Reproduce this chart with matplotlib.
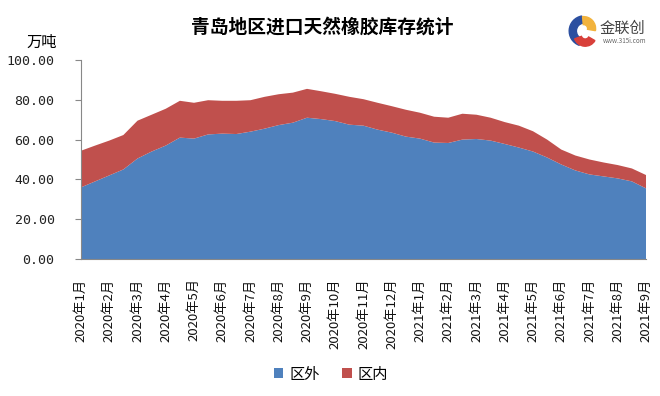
import matplotlib
matplotlib.use("Agg")
import matplotlib.pyplot as plt
from matplotlib.patches import Wedge

plt.rcParams["font.family"] = ["Noto Sans CJK SC", "DejaVu Sans"]

# semi-monthly readings, 2020-01 .. 2021-09 (万吨)
months = ["2020年1月", "2020年2月", "2020年3月", "2020年4月", "2020年5月",
          "2020年6月", "2020年7月", "2020年8月", "2020年9月", "2020年10月",
          "2020年11月", "2020年12月", "2021年1月", "2021年2月", "2021年3月",
          "2021年4月", "2021年5月", "2021年6月", "2021年7月", "2021年8月",
          "2021年9月"]

outside = [36.0, 39.0, 42.0, 45.0, 50.5, 54.0, 57.0, 61.0, 60.5, 62.6,
           63.0, 62.8, 64.0, 65.5, 67.3, 68.5, 71.0, 70.3, 69.3, 67.5,
           67.0, 65.0, 63.5, 61.5, 60.5, 58.5, 58.3, 60.0, 60.3, 59.5,
           57.8, 56.0, 54.0, 51.0, 47.5, 44.5, 42.5, 41.5, 40.5, 39.0, 35.5]
total = [54.4, 57.0, 59.5, 62.3, 69.5, 72.5, 75.5, 79.5, 78.5, 79.8,
         79.5, 79.5, 79.8, 81.5, 82.8, 83.6, 85.5, 84.3, 83.0, 81.5,
         80.3, 78.5, 76.8, 75.0, 73.5, 71.5, 71.0, 73.0, 72.5, 71.0,
         68.8, 67.0, 64.2, 60.0, 55.0, 52.0, 50.0, 48.5, 47.2, 45.5, 42.2]
inside = [t - o for t, o in zip(total, outside)]

x = list(range(len(outside)))

fig = plt.figure(figsize=(6.6, 3.96), dpi=100)
ax = fig.add_axes([81 / 660, 137 / 396, 565 / 660, 199 / 396])

ax.stackplot(x, outside, inside, colors=["#4F81BD", "#C0504D"],
             labels=["区外", "区内"], linewidth=0)

ax.set_xlim(0, len(x) - 1)
ax.set_ylim(0, 100)
yt = [0, 20, 40, 60, 80, 100]
ax.set_yticks(yt)
ax.set_yticklabels(["%.2f" % v for v in yt],
                   family="DejaVu Sans Mono", fontsize=9.5, color="#222222")
ax.set_xticks(x[::2])
ax.set_xticklabels(months, rotation=90, fontsize=9.5, color="#111111")
ax.tick_params(axis="x", length=0, pad=14)
ax.tick_params(axis="y", length=4, color="#888888", pad=15)

for s in ["top", "right"]:
    ax.spines[s].set_visible(False)
ax.spines["left"].set_color("#888888")
ax.spines["bottom"].set_color("#888888")

fig.text(322 / 660, 1 - 27 / 396, "青岛地区进口天然橡胶库存统计",
         ha="center", va="center", fontsize=13.5, fontweight="bold")
fig.text(42 / 660, 1 - 42 / 396, "万吨", ha="center", va="center", fontsize=11)

fig.legend(*ax.get_legend_handles_labels(), loc="center",
           bbox_to_anchor=(331 / 660, 1 - 374 / 396), ncol=2,
           frameon=False, fontsize=11, handlelength=0.6, handleheight=0.6,
           handletextpad=0.4, columnspacing=1.5)

# 金联创 logo
lg = fig.add_axes([566 / 660, 1 - 47 / 396, 32 / 660, 32 / 396])
lg.set_xlim(-1, 1)
lg.set_ylim(-1, 1)
lg.set_aspect("equal")
lg.axis("off")
lg.add_patch(Wedge((0.15, 0), 0.95, 100, 250, width=0.45, color="#2B4FA0"))
lg.add_patch(Wedge((0.1, 0.15), 0.75, -10, 95, width=0.5, color="#F2B33D"))
lg.add_patch(Wedge((0.2, -0.25), 0.7, 200, 330, width=0.45, color="#D8403A"))
fig.text(622 / 660, 1 - 28 / 396, "金联创", ha="center", va="center",
         fontsize=11, color="#444444")
fig.text(625 / 660, 1 - 41 / 396, "www.315i.com", ha="center", va="center",
         fontsize=4.5, color="#666666")

fig.savefig("out.png", dpi=100)
